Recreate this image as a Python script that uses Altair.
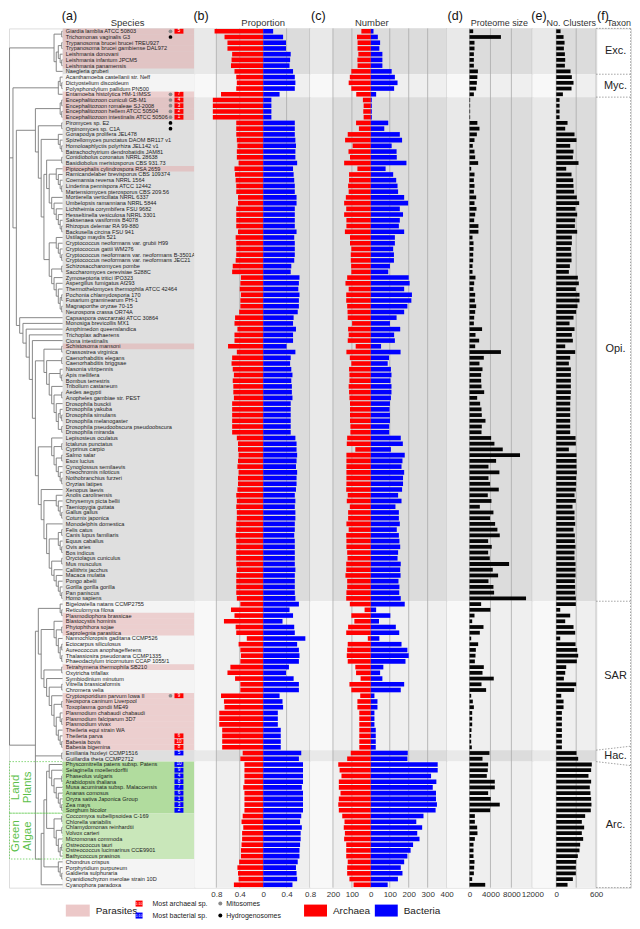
import altair as alt
import pandas as pd

# ----------------------------------------------------------------- data
species = [
    "Giardia lamblia ATCC 50803", "Trichomonas vaginalis G3", "Trypanosoma brucei brucei TREU927",
    "Trypanosoma brucei gambiense DAL972", "Leishmania donovani", "Leishmania infantum JPCM5",
    "Leishmania panamensis", "Naegleria gruberi",
    "Acanthamoeba castellanii str. Neff", "Dictyostelium discoideum", "Polysphondylium pallidum PN500",
    "Entamoeba histolytica HM-1:IMSS",
    "Encephalitozoon cuniculi GB-M1", "Encephalitozoon romaleae SJ-2008", "Encephalitozoon hellem ATCC 50504",
    "Encephalitozoon intestinalis ATCC 50506", "Piromyces sp. E2", "Orpinomyces sp. C1A",
    "Gonapodya prolifera JEL478", "Spizellomyces punctatus DAOM BR117 v1", "Homoloaphlyctis polyrhiza JEL142 v1",
    "Batrachochytrium dendrobatidis JAM81", "Conidiobolus coronatus NRRL 28638", "Basidiobolus meristosporus CBS 931.73",
    "Piptocephalis cylindrospora RSA 2659", "Ramicandelaber brevisporus CBS 109374", "Coemansia reversa NRRL 1564",
    "Linderina pennispora ATCC 12442", "Martensiomyces pterosporus CBS 209.56", "Mortierella verticillata NRRL 6337",
    "Umbelopsis ramanniana NRRL 5844", "Lichtheimia corymbifera FSU 9682", "Hesseltinella vesiculosa NRRL 3301",
    "Saksenaea vasiformis B4078", "Rhizopus delemar RA 99-880", "Backusella circina FSU 941",
    "Ustilago maydis 521", "Cryptococcus neoformans var. grubii H99", "Cryptococcus gattii WM276",
    "Cryptococcus neoformans var. neoformans B-3501A", "Cryptococcus neoformans var. neoformans JEC21",
    "Schizosaccharomyces pombe", "Saccharomyces cerevisiae S288C", "Zymoseptoria tritici IPO323",
    "Aspergillus fumigatus Af293", "Thermothelomyces thermophila ATCC 42464", "Pochonia chlamydosporia 170",
    "Fusarium graminearum PH-1", "Magnaporthe oryzae 70-15", "Neurospora crassa OR74A",
    "Capsaspora owczarzaki ATCC 30864", "Monosiga brevicollis MX1", "Amphimedon queenslandica",
    "Trichoplax adhaerens", "Ciona intestinalis", "Schistosoma mansoni", "Crassostrea virginica",
    "Caenorhabditis elegans", "Caenorhabditis briggsae", "Nasonia vitripennis", "Apis mellifera",
    "Bombus terrestris", "Tribolium castaneum", "Aedes aegypti", "Anopheles gambiae str. PEST",
    "Drosophila busckii", "Drosophila yakuba", "Drosophila simulans", "Drosophila melanogaster",
    "Drosophila pseudoobscura pseudoobscura", "Drosophila miranda", "Lepisosteus oculatus",
    "Ictalurus punctatus", "Cyprinus carpio", "Salmo salar", "Esox lucius", "Cynoglossus semilaevis",
    "Oreochromis niloticus", "Nothobranchius furzeri", "Oryzias latipes", "Xenopus laevis",
    "Anolis carolinensis", "Chrysemys picta bellii", "Taeniopygia guttata", "Gallus gallus",
    "Coturnix japonica", "Monodelphis domestica", "Felis catus", "Canis lupus familiaris",
    "Equus caballus", "Ovis aries", "Bos indicus", "Oryctolagus cuniculus", "Mus musculus",
    "Callithrix jacchus", "Macaca mulatta", "Pongo abelii", "Gorilla gorilla gorilla", "Pan paniscus",
    "Homo sapiens",
    "Bigelowiella natans CCMP2755", "Reticulomyxa filosa", "Plasmodiophora brassicae", "Blastocystis hominis",
    "Phytophthora sojae", "Saprolegnia parasitica", "Nannochloropsis gaditana CCMP526", "Ectocarpus siliculosus",
    "Aureococcus anophagefferens", "Thalassiosira pseudonana CCMP1335", "Phaeodactylum tricornutum CCAP 1055/1",
    "Tetrahymena thermophila SB210", "Oxytricha trifallax", "Symbiodinium minutum", "Vitrella brassicaformis",
    "Chromera velia", "Cryptosporidium parvum Iowa II", "Neospora caninum Liverpool", "Toxoplasma gondii ME49",
    "Plasmodium chabaudi chabaudi", "Plasmodium falciparum 3D7", "Plasmodium vivax", "Theileria equi strain WA",
    "Theileria parva", "Babesia bovis", "Babesia bigemina",
    "Emiliania huxleyi CCMP1516", "Guillardia theta CCMP2712",
    "Physcomitrella patens subsp. Patens", "Selaginella moellendorffii", "Phaseolus vulgaris", "Arabidopsis thaliana",
    "Musa acuminata subsp. Malaccensis", "Ananas comosus", "Oryza sativa Japonica Group", "Zea mays", "Sorghum bicolor",
    "Coccomyxa subellipsoidea C-169", "Chlorella variabilis", "Chlamydomonas reinhardtii", "Volvox carteri",
    "Micromonas commoda", "Ostreococcus tauri", "Ostreococcus lucimarinus CCE9901", "Bathycoccus prasinos",
    "Chondrus crispus", "Porphyridium purpureum", "Galdieria sulphuraria", "Cyanidioschyzon merolae strain 10D",
    "Cyanophora paradoxa",
]

prop_archaea = [
    0.83, 0.66, 0.61, 0.61, 0.53, 0.54, 0.55, 0.49, 0.46, 0.45,
    0.46, 0.72, 0.86, 0.86, 0.86, 0.86, 0.46, 0.46, 0.46, 0.45,
    0.44, 0.45, 0.45, 0.42, 0.49, 0.48, 0.47, 0.46, 0.46, 0.43,
    0.43, 0.46, 0.46, 0.46, 0.46, 0.43, 0.47, 0.46, 0.46, 0.46,
    0.47, 0.52, 0.53, 0.38, 0.39, 0.40, 0.38, 0.39, 0.39, 0.41,
    0.48, 0.49, 0.44, 0.49, 0.49, 0.60, 0.45, 0.53, 0.54, 0.52,
    0.50, 0.52, 0.51, 0.51, 0.50, 0.53, 0.53, 0.53, 0.53, 0.53,
    0.53, 0.45, 0.43, 0.43, 0.42, 0.43, 0.44, 0.42, 0.43, 0.43,
    0.44, 0.46, 0.45, 0.46, 0.45, 0.45, 0.46, 0.46, 0.47, 0.46,
    0.46, 0.46, 0.46, 0.46, 0.45, 0.46, 0.46, 0.46, 0.46, 0.45,
    0.39, 0.55, 0.49, 0.67, 0.47, 0.46, 0.28, 0.42, 0.39, 0.38,
    0.39, 0.56, 0.61, 0.48, 0.39, 0.39, 0.72, 0.67, 0.66, 0.75,
    0.75, 0.75, 0.70, 0.70, 0.70, 0.70, 0.35, 0.39, 0.32, 0.32,
    0.32, 0.32, 0.34, 0.32, 0.32, 0.32, 0.32, 0.35, 0.37, 0.34,
    0.36, 0.36, 0.37, 0.38, 0.38, 0.41, 0.44, 0.43, 0.42, 0.50,
]

num_archaea = [
    50, 73, 70, 70, 66, 71, 70, 103, 111, 117,
    103, 77, 42, 38, 40, 38, 78, 63, 122, 136,
    96, 118, 110, 141, 71, 115, 115, 120, 117, 132,
    141, 130, 141, 129, 129, 137, 110, 110, 103, 106,
    106, 104, 103, 125, 134, 117, 130, 130, 125, 123,
    122, 99, 120, 117, 122, 80, 129, 111, 103, 115,
    113, 113, 117, 115, 113, 110, 110, 110, 110, 108,
    108, 125, 127, 82, 129, 129, 129, 129, 129, 129,
    130, 122, 127, 111, 120, 120, 129, 117, 130, 129,
    129, 125, 123, 130, 130, 134, 125, 125, 129, 130,
    111, 33, 103, 87, 120, 130, 16, 122, 125, 127,
    122, 82, 78, 54, 113, 103, 56, 71, 71, 61,
    61, 61, 61, 61, 61, 61, 106, 125, 172, 165,
    155, 169, 169, 160, 169, 172, 169, 151, 139, 143,
    137, 141, 130, 130, 130, 122, 125, 125, 113, 91,
]

num_bacteria = [
    14, 37, 49, 45, 61, 61, 61, 110, 127, 141,
    123, 28, 5, 5, 5, 5, 92, 71, 153, 165,
    110, 136, 137, 188, 78, 118, 134, 141, 144, 176,
    197, 153, 170, 153, 148, 176, 127, 127, 118, 122,
    122, 101, 92, 200, 205, 176, 217, 214, 193, 176,
    136, 101, 155, 123, 127, 54, 157, 96, 89, 106,
    109, 104, 109, 109, 106, 101, 99, 101, 101, 97,
    97, 158, 169, 106, 179, 167, 162, 176, 170, 170,
    165, 144, 162, 130, 148, 148, 153, 137, 148, 151,
    155, 144, 141, 158, 155, 157, 146, 151, 150, 158,
    179, 28, 103, 43, 132, 150, 45, 162, 193, 200,
    183, 66, 49, 61, 176, 158, 19, 35, 35, 19,
    19, 19, 26, 26, 26, 26, 195, 193, 353, 353,
    318, 346, 327, 344, 344, 349, 342, 278, 240, 271,
    245, 257, 223, 210, 193, 176, 158, 167, 143, 89,
]

proteome_size = [
    700, 6000, 950, 950, 830, 830, 830, 1600, 1500, 1400,
    1270, 830, 120, 120, 120, 120, 1500, 1900, 1400, 950,
    630, 950, 1080, 1650, 320, 950, 830, 950, 830, 1270,
    950, 1330, 1080, 890, 1700, 1700, 570, 760, 760, 700,
    700, 570, 570, 1140, 890, 760, 1080, 1020, 1270, 1080,
    890, 830, 2400, 1140, 1840, 1080, 6000, 2730, 1900, 2480,
    2220, 2220, 2290, 2800, 1460, 2030, 2290, 2350, 3050, 2350,
    2290, 4130, 4760, 6350, 9650, 5080, 3620, 5710, 3620, 3940,
    5590, 3490, 4190, 1970, 4570, 3940, 4890, 5330, 5780, 3560,
    4250, 3560, 3870, 7560, 4440, 5460, 3620, 4570, 4700, 10800,
    2220, 4000, 950, 510, 2670, 1970, 320, 1650, 1210, 1140,
    1020, 2730, 2480, 4630, 2290, 3170, 320, 630, 830, 510,
    510, 510, 380, 320, 320, 440, 3810, 2480, 3560, 3490,
    3300, 4830, 4830, 3560, 4060, 5780, 3940, 1020, 1020, 1460,
    1520, 1020, 760, 760, 760, 950, 890, 830, 510, 3000,
]

no_clusters = [
    65, 110, 125, 115, 130, 135, 130, 215, 235, 260,
    230, 100, 50, 50, 50, 50, 170, 135, 275, 305,
    210, 260, 250, 335, 150, 230, 255, 260, 270, 310,
    345, 290, 315, 285, 280, 315, 235, 235, 220, 230,
    230, 205, 190, 325, 340, 295, 350, 350, 320, 300,
    260, 200, 275, 235, 250, 135, 285, 210, 190, 220,
    220, 220, 220, 220, 215, 210, 210, 210, 210, 210,
    210, 290, 295, 190, 305, 305, 305, 310, 300, 300,
    295, 275, 295, 245, 275, 275, 285, 260, 280, 280,
    290, 275, 275, 290, 290, 290, 280, 285, 285, 295,
    295, 60, 210, 135, 260, 285, 60, 290, 315, 330,
    310, 150, 135, 115, 300, 270, 75, 110, 110, 85,
    85, 85, 85, 85, 85, 85, 305, 330, 535, 525,
    485, 525, 505, 515, 525, 530, 520, 435, 385, 420,
    385, 405, 360, 350, 325, 300, 295, 295, 250, 170,
]

parasites = [
    "Giardia lamblia ATCC 50803", "Trichomonas vaginalis G3", "Trypanosoma brucei brucei TREU927",
    "Trypanosoma brucei gambiense DAL972", "Leishmania donovani", "Leishmania infantum JPCM5",
    "Leishmania panamensis", "Entamoeba histolytica HM-1:IMSS", "Encephalitozoon cuniculi GB-M1",
    "Encephalitozoon romaleae SJ-2008", "Encephalitozoon hellem ATCC 50504",
    "Encephalitozoon intestinalis ATCC 50506", "Piptocephalis cylindrospora RSA 2659", "Schistosoma mansoni",
    "Plasmodiophora brassicae", "Blastocystis hominis", "Phytophthora sojae", "Saprolegnia parasitica",
    "Tetrahymena thermophila SB210", "Cryptosporidium parvum Iowa II", "Neospora caninum Liverpool",
    "Toxoplasma gondii ME49", "Plasmodium chabaudi chabaudi", "Plasmodium falciparum 3D7", "Plasmodium vivax",
    "Theileria equi strain WA", "Theileria parva", "Babesia bovis", "Babesia bigemina",
]
mitosomes = [
    "Giardia lamblia ATCC 50803", "Entamoeba histolytica HM-1:IMSS", "Encephalitozoon cuniculi GB-M1",
    "Encephalitozoon romaleae SJ-2008", "Encephalitozoon hellem ATCC 50504",
    "Encephalitozoon intestinalis ATCC 50506", "Cryptosporidium parvum Iowa II",
]
hydrogenosomes = ["Trichomonas vaginalis G3", "Piromyces sp. E2", "Orpinomyces sp. C1A"]
most_archaeal = {
    "Encephalitozoon intestinalis ATCC 50506": 1, "Encephalitozoon hellem ATCC 50504": 2,
    "Encephalitozoon romaleae SJ-2008": 3, "Encephalitozoon cuniculi GB-M1": 4,
    "Giardia lamblia ATCC 50803": 5, "Theileria parva": 6, "Entamoeba histolytica HM-1:IMSS": 7,
    "Babesia bigemina": 8, "Cryptosporidium parvum Iowa II": 9, "Babesia bovis": 10,
}
most_bacterial = {
    "Oryza sativa Japonica Group": 1, "Sorghum bicolor": 2, "Zea mays": 3, "Phaseolus vulgaris": 4,
    "Emiliania huxleyi CCMP1516": 5, "Ananas comosus": 6, "Musa acuminata subsp. Malaccensis": 7,
    "Arabidopsis thaliana": 8, "Selaginella moellendorffii": 9, "Physcomitrella patens subsp. Patens": 10,
}

taxa = ["Exc.", "Myc.", "Opi.", "SAR", "Hac.", "Arc."]
taxa_first = [0, 8, 12, 100, 126, 128]
taxa_last = [7, 11, 99, 125, 127, 149]
taxa_shade = ["dark", "light", "dark", "light", "dark", "light"]

plant_groups = ["Land Plants", "Green Algae"]
plant_first = [128, 137]
plant_last = [136, 144]
plant_words = [["Land", "Plants"], ["Green", "Algae"]]

panel_letters = ["(a)", "(b)", "(c)", "(d)", "(e)", "(f)"]
panel_titles = ["Species", "Proportion", "Number", "Proteome size", "No. Clusters", "Taxon"]

prop_ticks = [-0.8, -0.4, 0, 0.4, 0.8]
num_ticks = [-200, -100, 0, 100, 200, 300, 400]
prot_ticks = [0, 4000, 8000, 12000]
clus_grid = [0, 300, 600]
clus_labels = [0, 600]

# cladogram topology (leaf = row index)
Exc = [[0, 1], [[[2, 3], [4, [5, 6]]], 7]]
Amoebozoa = [[8, [9, 10]], 11]
Fungi = [[[12, 13], [14, 15]],
         [[16, 17],
          [[18, [19, [20, 21]]],
           [[[22, 23], [[24, [25, [26, [27, 28]]]], [29, [30, [31, [32, [33, [34, 35]]]]]]]],
            [[36, [37, [38, [39, 40]]]], [[41, 42], [43, [44, [45, [[46, 47], [48, 49]]]]]]]]]]]
Insects = [[59, [60, 61]], [62, [[63, 64], [65, [[66, [67, 68]], [69, 70]]]]]]
Mammals = [86, [[[87, 88], [89, [90, 91]]], [[92, 93], [94, [95, [96, [97, [98, 99]]]]]]]]
Vert = [[71, [[72, 73], [[74, 75], [76, [77, [78, 79]]]]]], [80, [[81, [82, [83, [84, 85]]]], Mammals]]]
Holozoa = [50, [51, [52, [53, [54, [[[55, 56], [[57, 58], Insects]], Vert]]]]]]
Amorphea = [Amoebozoa, [Fungi, Holozoa]]
SAR = [[100, [101, 102]],
       [[103, [[104, 105], [106, [[107, 108], [109, 110]]]]],
        [[111, 112], [113, [[114, 115], [116, [[117, 118], [[119, [120, 121]], [122, [123, [124, 125]]]]]]]]]]]
Arc = [[[[128, [129, [[130, 131], [132, [133, [134, [135, 136]]]]]]],
         [[137, 138], [[139, 140], [141, [[142, 143], 144]]]]],
        [145, [146, [147, 148]]]], 149]
tree = [Exc, Amorphea, [SAR, [126, 127], Arc]]

# ----------------------------------------------------------------- frames
N = len(species)
RED, BLUE = "#ff0000", "#0000ff"
df = pd.DataFrame({
    "species": species, "idx": list(range(N)), "pa": prop_archaea,
    "na": num_archaea, "nb": num_bacteria, "prot": proteome_size, "clus": no_clusters,
})
df["parasite"] = df["species"].isin(parasites)
df["org"] = ["Mitosomes" if s in mitosomes else ("Hydrogenosomes" if s in hydrogenosomes else "")
             for s in species]
df["rank"] = [most_archaeal.get(s, most_bacterial.get(s, 0)) for s in species]
df["rkind"] = ["arch" if s in most_archaeal else ("bact" if s in most_bacterial else "") for s in species]

groups = pd.DataFrame({"taxon": taxa, "first": taxa_first, "last": taxa_last, "shade": taxa_shade})
groups["g0"] = groups["first"] - 0.5
groups["g1"] = groups["last"] + 0.5
groups["mid"] = (groups["first"] + groups["last"]) / 2

plants = pd.DataFrame({"grp": plant_groups, "first": plant_first, "last": plant_last})
plants["b0"] = plants["first"] - 0.5
plants["b1"] = plants["last"] + 0.5
plants["mid"] = (plants["first"] + plants["last"]) / 2

segs = []


def walk(node):
    if isinstance(node, int):
        return float(node), 0
    kids = [walk(c) for c in node]
    h = 1 + max(k[1] for k in kids)
    y = (kids[0][0] + kids[-1][0]) / 2
    for ky, kh in kids:
        segs.append((h, kh, ky, ky))
    segs.append((h, h, kids[0][0], kids[-1][0]))
    return y, h


_, root_h = walk(tree)
tree_df = pd.DataFrame([{"x": 1 - (a / root_h) ** 1.3, "x2": 1 - (b / root_h) ** 1.3, "y": c, "y2": d}
                        for a, b, c, d in segs])

# ----------------------------------------------------------------- layout
FONT = "Liberation Sans"
H = 862
W_TREE, W_SP, W_PROP, W_NUM, W_D, W_E, W_F = 54, 132, 116, 137, 86, 64, 35
one = pd.DataFrame({"k": [0]})

yscale = alt.Scale(domain=[-0.5, N - 0.5], reverse=True, nice=False, zero=False)


def Y(f):
    return alt.Y(f, scale=yscale, axis=None)


def label(txt, x, y, size, align="left", color="#222222", angle=0, weight="normal"):
    return alt.Chart(pd.DataFrame({"t": [txt]})).mark_text(
        align=align, baseline="middle", fontSize=size, color=color, angle=angle, fontWeight=weight
    ).encode(x=alt.value(x), y=alt.value(y), text="t:N")


def box(x0, x1, y0, y1, color):
    return alt.Chart(one).mark_rect(color=color).encode(
        x=alt.value(x0), x2=alt.value(x1), y=alt.value(y0), y2=alt.value(y1))


def headers(i, letter_x, title_x, title_size=9.5):
    return [label(panel_letters[i], letter_x, -12.5, 12.5, color="#111111"),
            label(panel_titles[i], title_x, -5, title_size, align="center", color="#333333")]


def data_panel(width, gap, lo, hi, grid_vals, label_vals, label_expr, bars, i, letter_x, title_x,
               title_size=9.5):
    dmin = lo - gap * (hi - lo) / (width - gap)
    xs = alt.Scale(domain=[dmin, hi], nice=False, zero=False)
    ax = alt.Axis(values=label_vals, labelExpr=label_expr, title=None, ticks=False, domain=False,
                  grid=False, labelFontSize=8, labelColor="#333333", labelPadding=3,
                  labelOverlap=False, labelFlush=False)

    def X(f):
        return alt.X(f, scale=xs, axis=ax)

    layers = [
        alt.Chart(groups).transform_calculate(
            c="datum.shade == 'dark' ? '#e9e9e9' : '#f8f8f8'"
        ).mark_rect().encode(x=alt.value(0), x2=alt.value(width), y=Y("g0:Q"), y2="g1",
                             color=alt.Color("c:N", scale=None)),
        alt.Chart(groups).transform_calculate(
            c="datum.shade == 'dark' ? '#dcdcdc' : '#efefef'", lo=str(lo), hi=str(hi)
        ).mark_rect().encode(x=X("lo:Q"), x2="hi", y=Y("g0:Q"), y2="g1",
                             color=alt.Color("c:N", scale=None)),
        alt.Chart(pd.DataFrame({"v": grid_vals})).mark_rule(color="#ababab", strokeWidth=0.8).encode(
            x=X("v:Q"), y=alt.value(0), y2=alt.value(H)),
    ]
    for e0, e1, col, half in bars:
        layers.append(
            alt.Chart(df).transform_calculate(
                b0=e0, b1=e1, y0=f"datum.idx - {half}", y1=f"datum.idx + {half}"
            ).mark_rect(color=col).encode(x=X("b0:Q"), x2="b1", y=Y("y0:Q"), y2="y1"))
    layers += headers(i, letter_x, title_x, title_size)
    return alt.layer(*layers).properties(width=width, height=H)


# --- tree panel
tscale = alt.Scale(domain=[-0.01, 1], nice=False, zero=False)
tree_layers = [
    alt.Chart(tree_df).mark_rule(color="#7a7a7a", strokeWidth=0.9).encode(
        x=alt.X("x:Q", scale=tscale, axis=None), x2="x2", y=Y("y:Q"), y2="y2"),
    alt.Chart(plants).mark_rect(fillOpacity=0, stroke="#66cc55", strokeWidth=0.8,
                                strokeDash=[1.5, 1.5]).encode(
        x=alt.value(0.5), x2=alt.value(W_TREE), y=Y("b0:Q"), y2="b1"),
]
for j, words in enumerate(plant_words):
    for k, w in enumerate(words):
        tree_layers.append(
            alt.Chart(plants.iloc[[j]].assign(w=w)).mark_text(
                angle=270, fontSize=11.5, color="#5cbf4a", baseline="middle", align="center"
            ).encode(x=alt.value(7 + 12 * k), y=Y("mid:Q"), text="w:N"))
tree_panel = alt.layer(*tree_layers).properties(width=W_TREE, height=H)

# --- (a) species panel
sp_layers = [
    alt.Chart(groups).transform_calculate(
        c="datum.shade == 'dark' ? '#dfdfdf' : '#f4f4f4'"
    ).mark_rect().encode(x=alt.value(0), x2=alt.value(W_SP), y=Y("g0:Q"), y2="g1",
                         color=alt.Color("c:N", scale=None)),
    alt.Chart(df).transform_filter("datum.parasite").transform_calculate(
        y0="datum.idx - 0.5", y1="datum.idx + 0.5"
    ).mark_rect(color="#e3a9a9", opacity=0.5).encode(
        x=alt.value(0), x2=alt.value(W_SP), y=Y("y0:Q"), y2="y1"),
    alt.Chart(plants).transform_calculate(
        c="datum.grp == 'Land Plants' ? '#b1dc9e' : '#c9e7ba'"
    ).mark_rect().encode(x=alt.value(0), x2=alt.value(W_SP), y=Y("b0:Q"), y2="b1",
                         color=alt.Color("c:N", scale=None)),
    alt.Chart(df).mark_text(align="left", baseline="middle", fontSize=5.6, color="#1c1c1c").encode(
        x=alt.value(3), y=Y("idx:Q"), text="species:N"),
    alt.Chart(df).transform_filter("datum.org != ''").transform_calculate(
        c="datum.org == 'Mitosomes' ? '#8a8a8a' : '#000000'"
    ).mark_point(filled=True, size=14, opacity=1).encode(
        x=alt.value(108), y=Y("idx:Q"), color=alt.Color("c:N", scale=None)),
    alt.Chart(df).transform_filter("datum.rank > 0").transform_calculate(
        y0="datum.idx - 0.42", y1="datum.idx + 0.42",
        c=f"datum.rkind == 'arch' ? '{RED}' : '{BLUE}'"
    ).mark_rect().encode(
        x=alt.value(112), x2=alt.value(121), y=Y("y0:Q"), y2="y1", color=alt.Color("c:N", scale=None)),
    alt.Chart(df).transform_filter("datum.rank > 0").mark_text(
        fontSize=4.6, color="white", baseline="middle", align="center").encode(
        x=alt.value(116.5), y=Y("idx:Q"), text="rank:Q"),
]
sp_layers += headers(0, -1, 65)
# legend (drawn beneath the panels)
LG = H + 17
sp_layers += [
    box(3, 27, LG, LG + 12, "#ecc8c8"),
    label("Parasites", 33, LG + 6, 10),
    box(73, 80, LG - 4, LG + 2, RED),
    label("1:10", 76.5, LG - 1, 3.5, align="center", color="white"),
    label("Most archaeal sp.", 90, LG - 1, 7),
    box(73, 80, LG + 8, LG + 14, BLUE),
    label("1:10", 76.5, LG + 11, 3.5, align="center", color="white"),
    label("Most bacterial sp.", 90, LG + 11, 7),
    alt.Chart(one).mark_point(filled=True, size=16, color="#8a8a8a", opacity=1).encode(
        x=alt.value(158), y=alt.value(LG - 1)),
    label("Mitosomes", 164, LG - 1, 7),
    alt.Chart(one).mark_point(filled=True, size=16, color="#000000", opacity=1).encode(
        x=alt.value(158), y=alt.value(LG + 11)),
    label("Hydrogenosomes", 164, LG + 11, 7),
    box(242, 265, LG, LG + 12, RED),
    label("Archaea", 271, LG + 6, 10),
    box(313, 336, LG, LG + 12, BLUE),
    label("Bacteria", 342, LG + 6, 10),
]
sp_panel = alt.layer(*sp_layers).properties(width=W_SP, height=H)

# --- (b)-(e) panels
prop_panel = data_panel(
    W_PROP, 22, -0.8, 0.8, prop_ticks, prop_ticks, "format(abs(datum.value), '.1~f')",
    [("-datum.pa", "0", RED, 0.4), ("0", "1 - datum.pa", BLUE, 0.4)], 1, -1, 69)
num_panel = data_panel(
    W_NUM, 23, -200, 400, num_ticks, num_ticks, "format(abs(datum.value), 'd')",
    [("-datum.na", "0", RED, 0.4), ("0", "datum.nb", BLUE, 0.4)], 2, 1, 62)
d_panel = data_panel(
    W_D, 23, 0, 12000, prot_ticks, prot_ticks, "format(datum.value, 'd')",
    [("0", "datum.prot", "#050505", 0.33)], 3, 1, 53, 9)
e_panel = data_panel(
    W_E, 24, 0, 600, clus_grid, clus_labels, "format(datum.value, 'd')",
    [("0", "datum.clus", "#050505", 0.33)], 4, -1, 39, 9)

# --- (f) taxon panel
bounds = pd.DataFrame({"b": [-0.5] + list(groups["g1"])})
hac_top, hac_bot = groups["g0"][4], groups["g1"][4]
f_layers = [
    alt.Chart(bounds).transform_calculate(
        br=f"datum.b == {hac_top} ? datum.b - 0.7 : (datum.b == {hac_bot} ? datum.b + 0.7 : datum.b)"
    ).mark_rule(color="#8c8c8c", strokeWidth=0.8, strokeDash=[1.5, 1.5]).encode(
        x=alt.value(0), x2=alt.value(W_F), y=Y("b:Q"), y2="br"),
    alt.Chart(one).mark_rule(color="#8c8c8c", strokeWidth=0.8, strokeDash=[1.5, 1.5]).encode(
        x=alt.value(W_F - 0.5), y=alt.value(0), y2=alt.value(H)),
    alt.Chart(groups).mark_text(fontSize=11, color="#222222", baseline="middle", align="center").encode(
        x=alt.value(W_F / 2 + 2), y=Y("mid:Q"), text="taxon:N"),
]
f_layers += headers(5, 1, 23, 9)
f_panel = alt.layer(*f_layers).properties(width=W_F, height=H)

chart = alt.hconcat(
    tree_panel, sp_panel, prop_panel, num_panel, d_panel, e_panel, f_panel,
    spacing=0, bounds="flush", padding=0
).configure_view(stroke=None).configure(font=FONT, background="white")

chart.save("out.html", embed_options={"renderer": "svg", "actions": False})
